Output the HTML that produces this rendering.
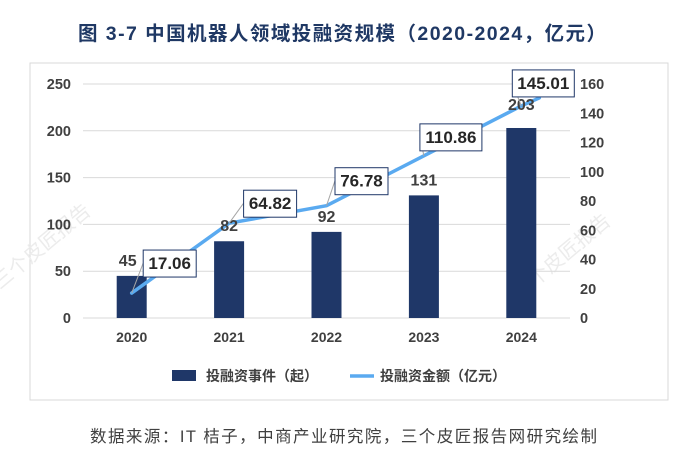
<!DOCTYPE html>
<html><head><meta charset="utf-8"><style>
body{margin:0;width:699px;height:456px;background:#fff;overflow:hidden;font-family:"Liberation Sans","Noto Sans CJK SC",sans-serif}
</style></head><body>
<svg id="c" width="699" height="456" xmlns="http://www.w3.org/2000/svg" font-family="Liberation Sans, Noto Sans CJK SC, sans-serif">
<text x="78" y="40" font-size="19.5" font-weight="bold" fill="#1f3864" textLength="528" lengthAdjust="spacing">图  3-7  中国机器人领域投融资规模（2020-2024，亿元）</text>
<rect x="30" y="63" width="638" height="337" fill="none" stroke="#d9d9d9"/>
<g fill="#ececec" font-size="20">
<text x="0" y="290" transform="rotate(-40 0 290)">三个皮匠报告</text>
<text x="520" y="300" transform="rotate(-40 520 300)">三个皮匠报告</text>
</g>
<g id="grid"></g><g id="bars"></g><g id="line"></g><g id="labels"></g>
<g font-size="14" font-weight="bold" fill="#404040">
<rect x="172" y="370" width="24" height="11" fill="#1f3768"/>
<text x="206" y="381">投融资事件（起）</text>
<line x1="350" y1="376" x2="374" y2="376" stroke="#5aaaf0" stroke-width="3.5"/>
<text x="380" y="381">投融资金额（亿元）</text>
</g>
<text x="90" y="442" font-size="16.5" fill="#404040" textLength="507" lengthAdjust="spacing">数据来源：IT 桔子，中商产业研究院，三个皮匠报告网研究绘制</text>
</svg>
<script>
const years=["2020","2021","2022","2023","2024"];
const events=[45,82,92,131,203];
const amounts=[17.06,64.82,76.78,110.86,145.01];
const leftTicks=[0,50,100,150,200,250];
const rightTicks=[0,20,40,60,80,100,120,140,160];
const NS="http://www.w3.org/2000/svg";
const x0=83,x1=570,yB=318,yT=84;
const xC=i=>x0+(x1-x0)/years.length*(i+0.5);
const yL=v=>yB-(yB-yT)*v/250;
const yR=v=>yB-(yB-yT)*v/160;
function mk(p,t,a){const e=document.createElementNS(NS,t);for(const k in a)e.setAttribute(k,a[k]);document.getElementById(p).appendChild(e);return e;}
leftTicks.forEach(v=>{
 const l=mk('grid','line',{x1:x0,x2:x1,y1:yL(v),y2:yL(v),stroke:'#d9d9d9'});
 
 
 const t=mk('grid','text',{x:71,y:yL(v)+5,'text-anchor':'end','font-size':14.5,'font-weight':'bold',fill:'#404040'});t.textContent=v;
 
 
});
rightTicks.forEach(v=>{
 const t=mk('grid','text',{x:580,y:yR(v)+5,'font-size':14.5,'font-weight':'bold',fill:'#404040'});t.textContent=v;
 
 
});
years.forEach((y,i)=>{
 const t=mk('grid','text',{x:xC(i),y:342,'text-anchor':'middle','font-size':14,'font-weight':'bold',fill:'#404040'});t.textContent=y;
 
 
 const b=mk('bars','rect',{x:xC(i)-15,y:yL(events[i]),width:30,height:yB-yL(events[i]),fill:'#1f3768'});
 
 
 const bl=mk('labels','text',{x:xC(i)-(i==0?4:0),y:yL(events[i])-(i==4?18:10),'text-anchor':'middle','font-size':16,'font-weight':'bold',fill:'#404040'});bl.textContent=events[i];
 
 
});
const pl=mk('line','polyline',{points:amounts.map((v,i)=>xC(i)+','+yR(v)).join(' ')+' '+(xC(4)+18)+','+(yR(amounts[4])-8),fill:'none',stroke:'#5aaaf0','stroke-width':3.5,'stroke-linejoin':'round','stroke-linecap':'round'});


const offs=[[38,-30],[41,-20],[35,-25],[27,-19],[22,-23]];
amounts.forEach((v,i)=>{
 const cx=xC(i)+offs[i][0],cy=yR(v)+offs[i][1];
 const w=v>=100?62:53;
 mk('labels','line',{x1:xC(i),y1:yR(v),x2:cx-w/2,y2:cy,stroke:'#a6a6a6','stroke-width':1});
 const r=mk('labels','rect',{x:cx-w/2,y:cy-13,width:w,height:27,fill:'#fff',stroke:'#1f3768','stroke-width':1});
 
 
 const t=mk('labels','text',{x:cx,y:cy+6,'text-anchor':'middle','font-size':17,'font-weight':'bold',fill:'#262626'});t.textContent=v.toFixed(2);
 
 
});
</script>
</body></html>
